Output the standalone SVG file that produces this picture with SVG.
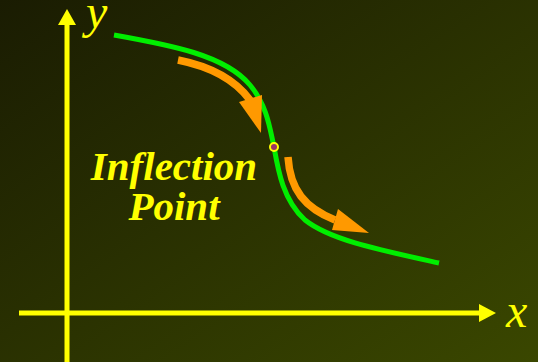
<svg xmlns="http://www.w3.org/2000/svg" width="538" height="362" viewBox="0 0 538 362">
<defs>
<linearGradient id="bg" x1="0" y1="0" x2="1" y2="1">
<stop offset="0" stop-color="#1a1c02"/>
<stop offset="1" stop-color="#3a4700"/>
</linearGradient>
<style>
.axis{stroke:#ffff00;stroke-width:5;fill:none}
.head{fill:#ffff00}
.curve{stroke:#00ee00;stroke-width:5;fill:none}
.oshaft{stroke:#ff9900;stroke-width:7.5;fill:none}
.ohead{fill:#ff9900}
.lbl{font-family:"Liberation Serif",serif;font-style:italic;fill:#ffff00}
.big{font-weight:bold;font-size:41px}
.ax{font-size:48px}
</style>
</defs>
<rect width="538" height="362" fill="url(#bg)"/>
<g id="axes">
<line class="axis" x1="67" y1="362" x2="67" y2="24"/>
<polygon class="head" points="58,25 67,9 76,25"/>
<line class="axis" x1="19" y1="313" x2="481" y2="313"/>
<polygon class="head" points="479,304 496,313 479,322"/>
<text class="lbl ax" x="86" y="28">y</text>
<text class="lbl ax" x="506" y="327">x</text>
</g>
<g id="curve">
<path class="curve" d="M 114 35 C 170 45, 225 55, 250 85 C 268 107, 270 130, 274 147 C 278 170, 283 200, 305 220 C 330 240, 380 250, 439 263"/>
</g>
<g id="connectors">
<path class="oshaft" d="M 178 60 Q 228 70, 250 100"/>
<polygon class="ohead" points="239,102 262,95 261,133"/>
<path class="oshaft" d="M 288 157 C 290 190, 305 208, 335 220"/>
<polygon class="ohead" points="338,209 332,230 369,233"/>
</g>
<g id="inflection">
<circle cx="274" cy="147" r="4" fill="#993366" stroke="#ffff00" stroke-width="2"/>
<text class="lbl big" x="174" y="180" text-anchor="middle">Inflection</text>
<text class="lbl big" x="174" y="220" text-anchor="middle">Point</text>
</g>
</svg>
